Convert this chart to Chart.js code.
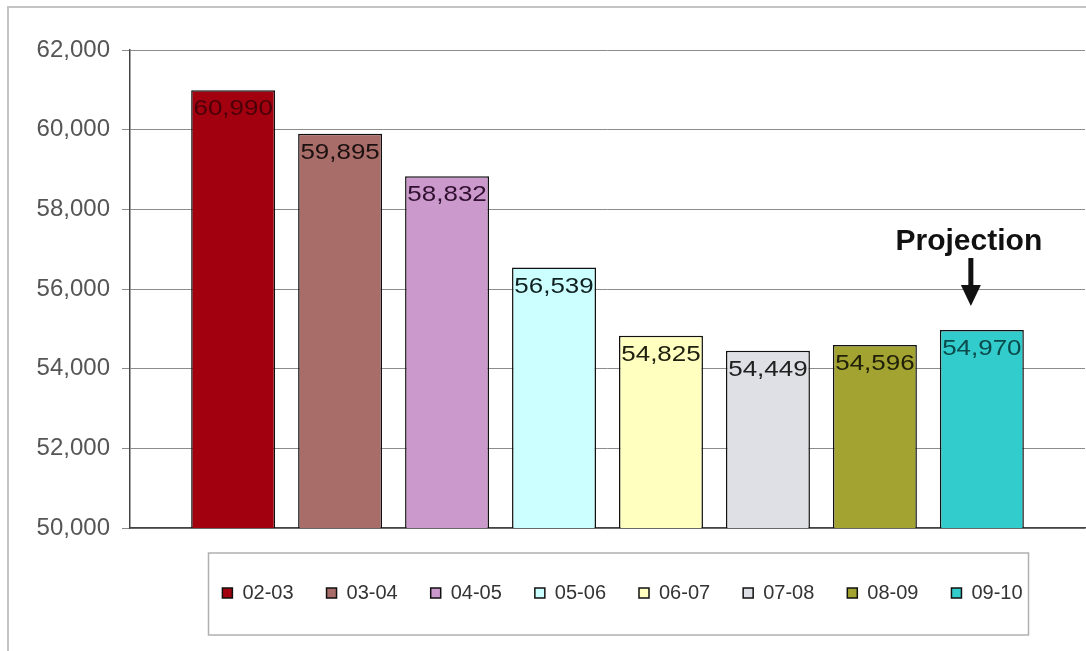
<!DOCTYPE html>
<html>
<head>
<meta charset="utf-8">
<script src="https://cdn.jsdelivr.net/npm/chart.js@4"></script>
<style>
  body { margin: 0; background: #fff; }
  #wrap { width: 1086px; height: 651px; }
</style>
</head>
<body>
<div id="wrap"><canvas id="enrolChart"></canvas></div>
<script>
// school years and enrolment counts
let years = ['02-03', '03-04', '04-05', '05-06', '06-07', '07-08', '08-09', '09-10']
let counts = [60990, 59895, 58832, 56539, 54825, 54449, 54596, 54970]
let barColors = ['#a3000f', '#a96d69', '#cc99cc', '#ccffff', '#ffffc0', '#dfdfe6', '#a3a332', '#33cccc']
let labelColors = ['#4a0008', '#1a1010', '#301030', '#102020', '#202010', '#202020', '#202008', '#0a4a4a']
let yTicks = [50000, 52000, 54000, 56000, 58000, 60000, 62000]
let projectionText = 'Projection'

let ctx = document.getElementById('enrolChart');

// outer frame lines (top + left) like the scanned original
const framePlugin = {
    id: 'frame',
    beforeDraw(chart) {
        let c = chart.ctx;
        c.save();
        c.strokeStyle = '#c4c4c4';
        c.lineWidth = 2;
        c.beginPath();
        c.moveTo(8, chart.height);
        c.lineTo(8, 7);
        c.lineTo(chart.width, 7);
        c.stroke();
        c.restore();
    }
};

// value labels inside top of each bar
const valueLabels = {
    id: 'valueLabels',
    afterDatasetsDraw(chart) {
        let c = chart.ctx;
        c.save();
        c.font = '22px Arial, "Liberation Sans", sans-serif';
        c.textAlign = 'center';
        c.textBaseline = 'top';
        chart.data.datasets.forEach((ds, i) => {
            let bar = chart.getDatasetMeta(i).data[0];
            c.save();
            c.translate(bar.x, bar.y + 8);
            c.scale(1.18, 1);
            c.fillStyle = labelColors[i];
            c.fillText(ds.data[0].toLocaleString('en-US'), 0, 0);
            c.restore();
        });
        c.restore();
    }
};

// "Projection" note with arrow over the last bar
const projectionNote = {
    id: 'projectionNote',
    afterDatasetsDraw(chart) {
        let last = chart.data.datasets.length - 1;
        let bar = chart.getDatasetMeta(last).data[0];
        let c = chart.ctx;
        let x = bar.x - 11;
        let tip = bar.y - 24;
        c.save();
        c.fillStyle = '#111';
        c.font = 'bold 30px Arial, "Liberation Sans", sans-serif';
        c.textAlign = 'center';
        c.textBaseline = 'alphabetic';
        c.fillText(projectionText, x - 2, tip - 56);
        c.fillRect(x - 2.5, tip - 48, 5, 30);
        c.beginPath();
        c.moveTo(x - 10, tip - 21);
        c.lineTo(x + 10, tip - 21);
        c.lineTo(x, tip);
        c.closePath();
        c.fill();
        c.restore();
    }
};

// legend sits a bit right of centre in the original, plus a border box
const legendBox = {
    id: 'legendBox',
    afterLayout(chart) {
        let lg = chart.legend;
        lg.left += 15;
        lg.right += 15;
        if (lg.adjustHitBoxes) lg.adjustHitBoxes();
    },
    afterDraw(chart) {
        let lg = chart.legend;
        let mid = (lg.left + lg.right) / 2 - 4;
        let c = chart.ctx;
        c.save();
        c.strokeStyle = '#b0b0b0';
        c.lineWidth = 1.5;
        c.strokeRect(mid - 410, 553, 820, 82);
        c.restore();
    }
};

new Chart(ctx, {
    type: 'bar',
    data: {
        labels: [''],
        datasets: years.map((y, i) => ({
            label: y,
            data: [counts[i]],
            backgroundColor: barColors[i],
            borderColor: '#111',
            borderWidth: 1.5,
            barPercentage: 0.785,
            categoryPercentage: 0.896
        }))
    },
    options: {
        responsive: true,
        maintainAspectRatio: false,
        animation: false,
        layout: { padding: { top: 50, right: 1, left: 0, bottom: 38 } },
        plugins: {
            tooltip: { enabled: false },
            legend: {
                position: 'bottom',
                fullSize: false,
                labels: {
                    boxWidth: 10,
                    boxHeight: 10,
                    padding: 33,
                    color: '#333',
                    font: { family: 'Arial, "Liberation Sans", sans-serif', size: 20 }
                }
            }
        },
        scales: {
            x: {
                afterFit(scale) { scale.height = 22; },
                grid: { display: false },
                border: { display: true, color: '#444', width: 1.5 },
                ticks: { display: false }
            },
            y: {
                min: yTicks[0],
                max: yTicks[yTicks.length - 1],
                afterFit(scale) { scale.width = 130; },
                afterBuildTicks(scale) { scale.ticks = yTicks.map(v => ({ value: v })); },
                grid: { color: '#8c8c8c', lineWidth: 1, tickLength: 8 },
                border: { color: '#444', width: 1.5 },
                ticks: {
                    padding: 12,
                    color: '#555',
                    font: { family: 'Arial, "Liberation Sans", sans-serif', size: 24 },
                    callback: v => v.toLocaleString('en-US')
                }
            }
        }
    },
    plugins: [framePlugin, valueLabels, projectionNote, legendBox]
});
</script>
</body>
</html>
